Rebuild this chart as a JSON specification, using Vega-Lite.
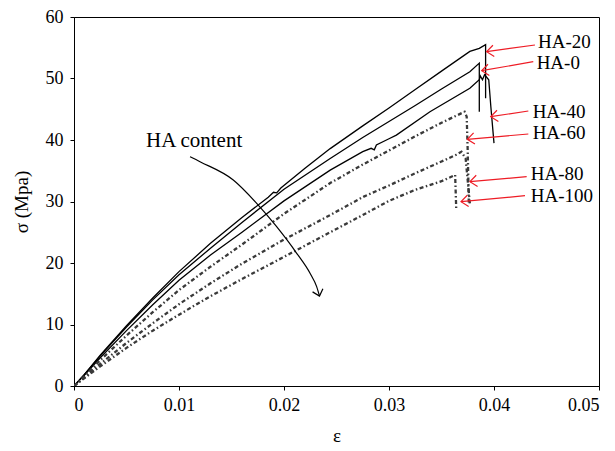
{
  "$schema": "https://vega.github.io/schema/vega-lite/v6.json",
  "width": 525,
  "height": 369,
  "autosize": {"type": "none"},
  "padding": {"left": 74, "top": 17, "right": 16, "bottom": 65},
  "background": "white",
  "config": {
    "font": "Liberation Serif",
    "view": {"stroke": "black", "strokeWidth": 1},
    "axis": {
      "grid": false,
      "domainColor": "black",
      "tickColor": "black",
      "labelColor": "black",
      "titleColor": "black",
      "labelFont": "Liberation Serif",
      "titleFont": "Liberation Serif",
      "labelFontSize": 18,
      "titleFontSize": 19,
      "titleFontWeight": "normal",
      "tickSize": 4
    }
  },
  "datasets": {
    "curves": [
      {"s": "HA-20", "i": 0, "e": 0, "sigma": 0},
      {"s": "HA-20", "i": 1, "e": 0.001, "sigma": 1.9},
      {"s": "HA-20", "i": 2, "e": 0.0025, "sigma": 5.0},
      {"s": "HA-20", "i": 3, "e": 0.005, "sigma": 9.8},
      {"s": "HA-20", "i": 4, "e": 0.0075, "sigma": 14.3},
      {"s": "HA-20", "i": 5, "e": 0.01, "sigma": 18.6},
      {"s": "HA-20", "i": 6, "e": 0.013, "sigma": 23.2},
      {"s": "HA-20", "i": 7, "e": 0.016, "sigma": 27.4},
      {"s": "HA-20", "i": 8, "e": 0.0185, "sigma": 30.7},
      {"s": "HA-20", "i": 9, "e": 0.019, "sigma": 31.5},
      {"s": "HA-20", "i": 10, "e": 0.0193, "sigma": 31.4},
      {"s": "HA-20", "i": 11, "e": 0.0197, "sigma": 32.2},
      {"s": "HA-20", "i": 12, "e": 0.022, "sigma": 35.4},
      {"s": "HA-20", "i": 13, "e": 0.0244, "sigma": 38.6},
      {"s": "HA-20", "i": 14, "e": 0.0275, "sigma": 42.3},
      {"s": "HA-20", "i": 15, "e": 0.03, "sigma": 45.2},
      {"s": "HA-20", "i": 16, "e": 0.0325, "sigma": 48.2},
      {"s": "HA-20", "i": 17, "e": 0.035, "sigma": 51.2},
      {"s": "HA-20", "i": 18, "e": 0.0377, "sigma": 54.4},
      {"s": "HA-20", "i": 19, "e": 0.0386, "sigma": 54.9},
      {"s": "HA-20", "i": 20, "e": 0.0392, "sigma": 55.5},
      {"s": "HA-20", "i": 21, "e": 0.0392, "sigma": 46.8},

      {"s": "HA-0", "i": 0, "e": 0, "sigma": 0},
      {"s": "HA-0", "i": 1, "e": 0.001, "sigma": 1.9},
      {"s": "HA-0", "i": 2, "e": 0.0025, "sigma": 4.9},
      {"s": "HA-0", "i": 3, "e": 0.005, "sigma": 9.6},
      {"s": "HA-0", "i": 4, "e": 0.0075, "sigma": 14.0},
      {"s": "HA-0", "i": 5, "e": 0.01, "sigma": 18.1},
      {"s": "HA-0", "i": 6, "e": 0.013, "sigma": 22.4},
      {"s": "HA-0", "i": 7, "e": 0.016, "sigma": 26.6},
      {"s": "HA-0", "i": 8, "e": 0.02, "sigma": 32.0},
      {"s": "HA-0", "i": 9, "e": 0.0244, "sigma": 37.0},
      {"s": "HA-0", "i": 10, "e": 0.0275, "sigma": 40.4},
      {"s": "HA-0", "i": 11, "e": 0.03, "sigma": 43.0},
      {"s": "HA-0", "i": 12, "e": 0.0325, "sigma": 45.6},
      {"s": "HA-0", "i": 13, "e": 0.035, "sigma": 48.3},
      {"s": "HA-0", "i": 14, "e": 0.0377, "sigma": 51.1},
      {"s": "HA-0", "i": 15, "e": 0.0386, "sigma": 52.5},
      {"s": "HA-0", "i": 16, "e": 0.0386, "sigma": 44.6},

      {"s": "HA-40", "i": 0, "e": 0, "sigma": 0},
      {"s": "HA-40", "i": 1, "e": 0.001, "sigma": 1.8},
      {"s": "HA-40", "i": 2, "e": 0.0025, "sigma": 4.6},
      {"s": "HA-40", "i": 3, "e": 0.005, "sigma": 9.0},
      {"s": "HA-40", "i": 4, "e": 0.0075, "sigma": 13.2},
      {"s": "HA-40", "i": 5, "e": 0.01, "sigma": 17.2},
      {"s": "HA-40", "i": 6, "e": 0.013, "sigma": 21.3},
      {"s": "HA-40", "i": 7, "e": 0.016, "sigma": 25.0},
      {"s": "HA-40", "i": 8, "e": 0.02, "sigma": 30.1},
      {"s": "HA-40", "i": 9, "e": 0.0244, "sigma": 35.1},
      {"s": "HA-40", "i": 10, "e": 0.0275, "sigma": 38.1},
      {"s": "HA-40", "i": 11, "e": 0.0283, "sigma": 38.65},
      {"s": "HA-40", "i": 12, "e": 0.0286, "sigma": 38.4},
      {"s": "HA-40", "i": 13, "e": 0.0288, "sigma": 39.2},
      {"s": "HA-40", "i": 14, "e": 0.03, "sigma": 40.2},
      {"s": "HA-40", "i": 15, "e": 0.0307, "sigma": 40.8},
      {"s": "HA-40", "i": 16, "e": 0.0339, "sigma": 44.6},
      {"s": "HA-40", "i": 17, "e": 0.0377, "sigma": 48.4},
      {"s": "HA-40", "i": 18, "e": 0.0386, "sigma": 49.8},
      {"s": "HA-40", "i": 19, "e": 0.0387, "sigma": 50.4},
      {"s": "HA-40", "i": 20, "e": 0.0389, "sigma": 49.8},
      {"s": "HA-40", "i": 21, "e": 0.0391, "sigma": 50.6},
      {"s": "HA-40", "i": 22, "e": 0.0393, "sigma": 50.2},
      {"s": "HA-40", "i": 23, "e": 0.0395, "sigma": 49.8},
      {"s": "HA-40", "i": 24, "e": 0.0397, "sigma": 45.4},
      {"s": "HA-40", "i": 25, "e": 0.04, "sigma": 39.5},

      {"s": "HA-60", "i": 0, "e": 0, "sigma": 0},
      {"s": "HA-60", "i": 1, "e": 0.001, "sigma": 1.6},
      {"s": "HA-60", "i": 2, "e": 0.0025, "sigma": 4.2},
      {"s": "HA-60", "i": 3, "e": 0.005, "sigma": 8.2},
      {"s": "HA-60", "i": 4, "e": 0.0075, "sigma": 12.0},
      {"s": "HA-60", "i": 5, "e": 0.01, "sigma": 15.6},
      {"s": "HA-60", "i": 6, "e": 0.013, "sigma": 19.4},
      {"s": "HA-60", "i": 7, "e": 0.016, "sigma": 23.0},
      {"s": "HA-60", "i": 8, "e": 0.02, "sigma": 28.0},
      {"s": "HA-60", "i": 9, "e": 0.0244, "sigma": 33.0},
      {"s": "HA-60", "i": 10, "e": 0.0275, "sigma": 36.0},
      {"s": "HA-60", "i": 11, "e": 0.03, "sigma": 38.3},
      {"s": "HA-60", "i": 12, "e": 0.0325, "sigma": 40.6},
      {"s": "HA-60", "i": 13, "e": 0.035, "sigma": 42.8},
      {"s": "HA-60", "i": 14, "e": 0.0372, "sigma": 44.6},
      {"s": "HA-60", "i": 15, "e": 0.0374, "sigma": 43.8},
      {"s": "HA-60", "i": 16, "e": 0.0375, "sigma": 38.0},
      {"s": "HA-60", "i": 17, "e": 0.0376, "sigma": 29.8},

      {"s": "HA-80", "i": 0, "e": 0, "sigma": 0},
      {"s": "HA-80", "i": 1, "e": 0.001, "sigma": 1.4},
      {"s": "HA-80", "i": 2, "e": 0.0025, "sigma": 3.6},
      {"s": "HA-80", "i": 3, "e": 0.005, "sigma": 7.0},
      {"s": "HA-80", "i": 4, "e": 0.0075, "sigma": 10.2},
      {"s": "HA-80", "i": 5, "e": 0.01, "sigma": 13.3},
      {"s": "HA-80", "i": 6, "e": 0.013, "sigma": 16.7},
      {"s": "HA-80", "i": 7, "e": 0.016, "sigma": 19.9},
      {"s": "HA-80", "i": 8, "e": 0.02, "sigma": 23.8},
      {"s": "HA-80", "i": 9, "e": 0.0244, "sigma": 27.8},
      {"s": "HA-80", "i": 10, "e": 0.0276, "sigma": 30.8},
      {"s": "HA-80", "i": 11, "e": 0.03, "sigma": 32.6},
      {"s": "HA-80", "i": 12, "e": 0.0325, "sigma": 34.6},
      {"s": "HA-80", "i": 13, "e": 0.035, "sigma": 36.5},
      {"s": "HA-80", "i": 14, "e": 0.0364, "sigma": 37.6},
      {"s": "HA-80", "i": 15, "e": 0.0369, "sigma": 38.1},
      {"s": "HA-80", "i": 16, "e": 0.0373, "sigma": 37.0},
      {"s": "HA-80", "i": 17, "e": 0.0377, "sigma": 29.7},

      {"s": "HA-100", "i": 0, "e": 0, "sigma": 0},
      {"s": "HA-100", "i": 1, "e": 0.001, "sigma": 1.3},
      {"s": "HA-100", "i": 2, "e": 0.0025, "sigma": 3.2},
      {"s": "HA-100", "i": 3, "e": 0.005, "sigma": 6.2},
      {"s": "HA-100", "i": 4, "e": 0.0075, "sigma": 9.0},
      {"s": "HA-100", "i": 5, "e": 0.01, "sigma": 11.6},
      {"s": "HA-100", "i": 6, "e": 0.013, "sigma": 14.6},
      {"s": "HA-100", "i": 7, "e": 0.016, "sigma": 17.4},
      {"s": "HA-100", "i": 8, "e": 0.02, "sigma": 21.0},
      {"s": "HA-100", "i": 9, "e": 0.0244, "sigma": 25.0},
      {"s": "HA-100", "i": 10, "e": 0.0275, "sigma": 27.8},
      {"s": "HA-100", "i": 11, "e": 0.03, "sigma": 30.1},
      {"s": "HA-100", "i": 12, "e": 0.0325, "sigma": 31.9},
      {"s": "HA-100", "i": 13, "e": 0.035, "sigma": 33.3},
      {"s": "HA-100", "i": 14, "e": 0.0363, "sigma": 34.3},
      {"s": "HA-100", "i": 15, "e": 0.0364, "sigma": 28.9}
    ],
    "labels": [
      {"s": "HA-20", "e": 0.04419, "sigma": 55.9},
      {"s": "HA-0", "e": 0.04406, "sigma": 52.6},
      {"s": "HA-40", "e": 0.04368, "sigma": 44.6},
      {"s": "HA-60", "e": 0.04368, "sigma": 41.1},
      {"s": "HA-80", "e": 0.0435, "sigma": 34.4},
      {"s": "HA-100", "e": 0.0435, "sigma": 30.9}
    ],
    "arrows": [
      {"s": "HA-20", "e": 0.0393, "sigma": 54.36, "e2": 0.0439, "sigma2": 55.45},
      {"s": "HA-0", "e": 0.03883, "sigma": 51.27, "e2": 0.04374, "sigma2": 52.73},
      {"s": "HA-40", "e": 0.03969, "sigma": 43.79, "e2": 0.04327, "sigma2": 44.72},
      {"s": "HA-60", "e": 0.03746, "sigma": 40.11, "e2": 0.04327, "sigma2": 40.98},
      {"s": "HA-80", "e": 0.03771, "sigma": 33.22, "e2": 0.04311, "sigma2": 34.03},
      {"s": "HA-100", "e": 0.03686, "sigma": 29.97, "e2": 0.04295, "sigma2": 30.94}
    ],
    "hint": [
      {"i": 0, "e": 0.01105, "sigma": 37.28},
      {"i": 1, "e": 0.0120, "sigma": 36.47},
      {"i": 2, "e": 0.01517, "sigma": 33.5},
      {"i": 3, "e": 0.0174, "sigma": 29.71},
      {"i": 4, "e": 0.0193, "sigma": 25.9},
      {"i": 5, "e": 0.02121, "sigma": 21.58},
      {"i": 6, "e": 0.02248, "sigma": 18.33},
      {"i": 7, "e": 0.02311, "sigma": 16.15},
      {"i": 8, "e": 0.02338, "sigma": 14.63}
    ],
    "hinthead": [{"e": 0.02338, "sigma": 14.63}],
    "hinttext": [{"t": "HA content", "e": 0.00686, "sigma": 39.8}]
  },
  "encoding": {
    "x": {
      "field": "e",
      "type": "quantitative",
      "scale": {"domain": [0, 0.05], "nice": false, "zero": false},
      "axis": {
        "values": [0, 0.01, 0.02, 0.03, 0.04, 0.05], "format": ".2~f",
        "labelPadding": 6, "title": "ε", "titlePadding": 12,
        "encode": {
          "labels": {"update": {"font": {"value": "Liberation Serif"}}},
          "title": {"update": {"font": {"value": "Liberation Serif"}}}
        }
      }
    },
    "y": {
      "field": "sigma",
      "type": "quantitative",
      "scale": {"domain": [0, 60], "nice": false},
      "axis": {
        "values": [0, 10, 20, 30, 40, 50, 60],
        "labelPadding": 7, "title": "σ (Mpa)", "titlePadding": 14,
        "encode": {
          "labels": {"update": {"font": {"value": "Liberation Serif"}}},
          "title": {"update": {"font": {"value": "Liberation Serif"}}}
        }
      }
    }
  },
  "layer": [
    {
      "data": {"name": "curves"},
      "transform": [{"filter": "indexof(['HA-0','HA-20','HA-40'], datum.s) >= 0"}],
      "mark": {"type": "line", "color": "black", "strokeWidth": 1.3, "clip": true},
      "encoding": {"detail": {"field": "s"}, "order": {"field": "i", "type": "quantitative"}}
    },
    {
      "data": {"name": "curves"},
      "transform": [{"filter": "indexof(['HA-60','HA-80','HA-100'], datum.s) >= 0"}],
      "mark": {"type": "line", "color": "#3a3a3a", "strokeWidth": 2.3, "strokeDash": [4, 2.5, 1.5, 2.5], "clip": true},
      "encoding": {"detail": {"field": "s"}, "order": {"field": "i", "type": "quantitative"}}
    },
    {
      "data": {"name": "hint"},
      "mark": {"type": "line", "color": "black", "strokeWidth": 1.2, "interpolate": "monotone"},
      "encoding": {"order": {"field": "i", "type": "quantitative"}}
    },
    {
      "data": {"name": "hinthead"},
      "mark": {"type": "point", "shape": "M2,-1.8L0,0L2,1.8", "size": 36, "filled": false, "stroke": "black", "strokeWidth": 1.2, "angle": -107, "opacity": 1}
    },
    {
      "data": {"name": "hinttext"},
      "mark": {"type": "text", "align": "left", "baseline": "middle", "fontSize": 21, "font": "Liberation Serif", "color": "black"},
      "encoding": {"text": {"field": "t"}}
    },
    {
      "data": {"name": "arrows"},
      "mark": {"type": "rule", "color": "#ee1c25", "strokeWidth": 1.2},
      "encoding": {"x2": {"field": "e2"}, "y2": {"field": "sigma2"}}
    },
    {
      "data": {"name": "arrows"},
      "mark": {"type": "point", "shape": "M2,-1.6L0,0L2,1.6", "size": 49, "filled": false, "stroke": "#ee1c25", "strokeWidth": 1.2, "angle": -7, "opacity": 1}
    },
    {
      "data": {"name": "labels"},
      "mark": {"type": "text", "align": "left", "baseline": "middle", "fontSize": 19, "font": "Liberation Serif", "color": "black"},
      "encoding": {"text": {"field": "s"}}
    }
  ]
}
